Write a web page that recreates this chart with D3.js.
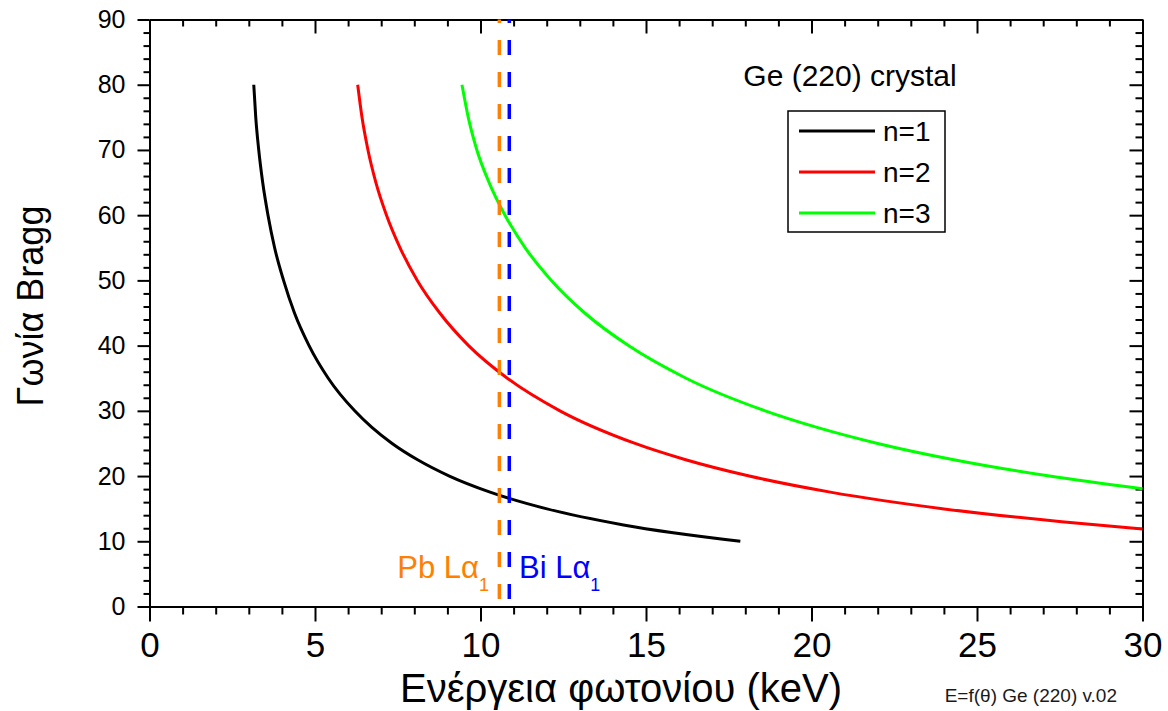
<!DOCTYPE html>
<html lang="el">
<head>
<meta charset="UTF-8">
<title>Bragg angle vs energy, Ge (220)</title>
<script src="https://cdn.jsdelivr.net/npm/d3@7"></script>
<style>
  body { margin: 0; background: #fff; }
  text { font-family: "Liberation Sans", Arial, sans-serif; fill: #000; }
</style>
</head>
<body>
<div id="chart"></div>
<script>
// energy (keV), with the Bragg angle (deg) at that point
const energyN1 = [3.15, 3.21, 3.30, 3.42, 3.58, 3.78, 4.05, 4.38, 4.82, 5.40, 6.20, 6.71, 7.33, 8.10, 9.06, 10.31, 11.98, 14.32, 17.85];
const angleN1  = [80, 75, 70, 65, 60, 55, 50, 45, 40, 35, 30, 27.5, 25, 22.5, 20, 17.5, 15, 12.5, 10];
const energyN2 = [6.29, 6.42, 6.60, 6.84, 7.16, 7.57, 8.09, 8.77, 9.64, 10.81, 12.40, 14.67, 16.20, 18.12, 20.61, 23.95, 27.56, 30.0];
const angleN2  = [80, 75, 70, 65, 60, 55, 50, 45, 40, 35, 30, 25, 22.5, 20, 17.5, 15, 13, 11.9];
const energyN3 = [9.44, 9.63, 9.89, 10.26, 10.74, 11.35, 12.14, 13.15, 14.47, 16.21, 18.60, 20.14, 22.00, 24.30, 27.19, 30.0];
const angleN3  = [80, 75, 70, 65, 60, 55, 50, 45, 40, 35, 30, 27.5, 25, 22.5, 20, 18.05];
const seriesNames = ["n=1", "n=2", "n=3"];
const seriesColors = ["#000000", "#ff0000", "#00ff00"];
// emission lines
const lineNames = ["Pb Lα", "Bi Lα"];
const lineEnergies = [10.57, 10.87];
const lineColors = ["#ff8000", "#0000ff"];
const xTicks = [0, 5, 10, 15, 20, 25, 30];
const yTicks = [0, 10, 20, 30, 40, 50, 60, 70, 80, 90];

const width = 1168, height = 711;
const margin = {top: 19.5, right: 25.5, bottom: 104.5, left: 149.5};
const w = width - margin.left - margin.right;
const h = height - margin.top - margin.bottom;

const svg = d3.select("#chart").append("svg")
  .attr("width", width).attr("height", height);
const g = svg.append("g")
  .attr("transform", "translate(" + margin.left + "," + margin.top + ")");

const x = d3.scaleLinear().domain([0, 30]).range([0, w]);
const y = d3.scaleLinear().domain([0, 90]).range([h, 0]);

// minor ticks
const xMinor = d3.range(0, 31, 1).filter(d => d % 5 !== 0);
const yMinor = d3.range(0, 91, 2).filter(d => d % 10 !== 0);

function styleAxis(sel) {
  sel.selectAll("path").attr("stroke", "#000").attr("stroke-width", 2);
  sel.selectAll("line").attr("stroke", "#000").attr("stroke-width", 2);
}

// bottom axis
const xAxis = g.append("g").attr("transform", "translate(0," + h + ")")
  .call(d3.axisBottom(x).tickValues(xTicks).tickSize(15).tickSizeOuter(0).tickPadding(11));
xAxis.selectAll("text").style("font-size", "35px");
xAxis.append("g").call(d3.axisBottom(x).tickValues(xMinor).tickSize(8).tickFormat(""))
  .select("path").remove();
styleAxis(xAxis);

// left axis
const yAxis = g.append("g")
  .call(d3.axisLeft(y).tickValues(yTicks).tickSize(12).tickSizeOuter(0).tickPadding(12));
yAxis.selectAll("text").style("font-size", "25px");
yAxis.append("g").call(d3.axisLeft(y).tickValues(yMinor).tickSize(6).tickFormat(""))
  .select("path").remove();
styleAxis(yAxis);

// top axis (ticks inside)
const topAxis = g.append("g")
  .call(d3.axisTop(x).tickValues(xTicks).tickSize(-14).tickSizeOuter(0).tickFormat(""));
topAxis.append("g").call(d3.axisTop(x).tickValues(xMinor).tickSize(-7).tickFormat(""))
  .select("path").remove();
styleAxis(topAxis);

// right axis (ticks inside)
const rightAxis = g.append("g").attr("transform", "translate(" + w + ",0)")
  .call(d3.axisRight(y).tickValues(yTicks).tickSize(-13).tickSizeOuter(0).tickFormat(""));
rightAxis.append("g").call(d3.axisRight(y).tickValues(yMinor).tickSize(-7).tickFormat(""))
  .select("path").remove();
styleAxis(rightAxis);

// curves
const series = [
  energyN1.map((e, i) => ({e: e, a: angleN1[i]})),
  energyN2.map((e, i) => ({e: e, a: angleN2[i]})),
  energyN3.map((e, i) => ({e: e, a: angleN3[i]}))
];
const line = d3.line()
  .x(d => x(d.e))
  .y(d => y(d.a))
  .curve(d3.curveMonotoneX);

g.append("g").selectAll("path.curve")
  .data(series)
  .enter().append("path")
  .attr("class", "curve")
  .attr("fill", "none")
  .attr("stroke", (d, i) => seriesColors[i])
  .attr("stroke-width", 3)
  .attr("d", line);

// dashed emission lines
g.append("g").selectAll("line")
  .data(lineEnergies)
  .enter().append("line")
  .attr("x1", d => x(d)).attr("x2", d => x(d))
  .attr("y1", 0).attr("y2", h)
  .attr("stroke", (d, i) => lineColors[i])
  .attr("stroke-width", 3.5)
  .attr("stroke-dasharray", "15,17")
  .attr("stroke-dashoffset", 11.5);

// line labels
const pb = svg.append("text")
  .attr("x", 489).attr("y", 578)
  .attr("text-anchor", "end")
  .style("font-size", "31px")
  .style("fill", lineColors[0]);
pb.append("tspan").text(lineNames[0]);
pb.append("tspan").attr("dy", 12.5).style("font-size", "18px").text("1");

const bi = svg.append("text")
  .attr("x", 519).attr("y", 578)
  .style("font-size", "31px")
  .style("fill", lineColors[1]);
bi.append("tspan").text(lineNames[1]);
bi.append("tspan").attr("dy", 12.5).style("font-size", "18px").text("1");

// title inside plot
svg.append("text")
  .attr("x", 850).attr("y", 86)
  .attr("text-anchor", "middle")
  .style("font-size", "30px")
  .text("Ge (220) crystal");

// legend
const legend = svg.append("g");
legend.append("rect")
  .attr("x", 788).attr("y", 111)
  .attr("width", 157).attr("height", 121)
  .attr("fill", "#fff").attr("stroke", "#000").attr("stroke-width", 1.5);
seriesNames.forEach((name, i) => {
  const ly = 131 + i * 41;
  legend.append("line")
    .attr("x1", 799).attr("x2", 875)
    .attr("y1", ly).attr("y2", ly)
    .attr("stroke", seriesColors[i]).attr("stroke-width", 3);
  legend.append("text")
    .attr("x", 883).attr("y", ly + 10)
    .style("font-size", "28px")
    .text(name);
});

// axis titles
svg.append("text")
  .attr("x", 621).attr("y", 702)
  .attr("text-anchor", "middle")
  .style("font-size", "40px")
  .text("Ενέργεια φωτονίου (keV)");

svg.append("text")
  .attr("transform", "translate(43,306) rotate(-90)")
  .attr("text-anchor", "middle")
  .style("font-size", "36px")
  .text("Γωνία Bragg");

// footnote
svg.append("text")
  .attr("x", 1117).attr("y", 702)
  .attr("text-anchor", "end")
  .style("font-size", "19px")
  .style("fill", "#1a1a1a")
  .text("E=f(θ) Ge (220) v.02");
</script>
</body>
</html>
